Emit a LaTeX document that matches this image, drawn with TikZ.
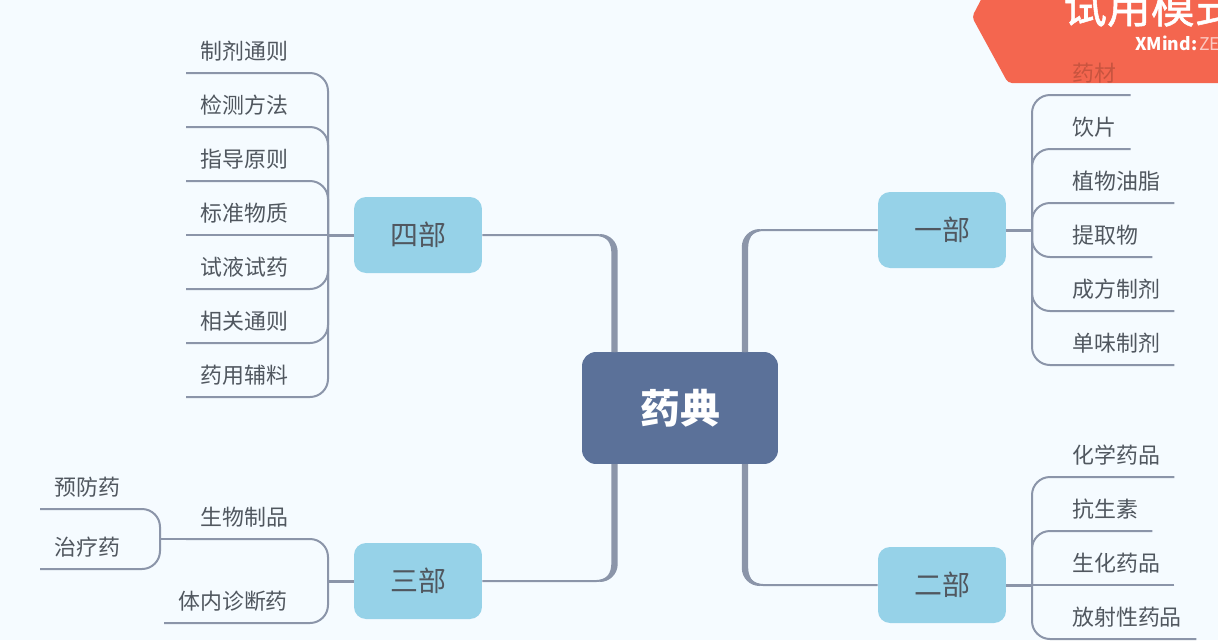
\documentclass[tikz,border=0pt]{standalone}
\usepackage{fontspec}
\setmainfont{Noto Sans CJK SC}
\newfontfamily\markfont[FakeBold=1.2]{Noto Sans CJK SC}
\usepackage{xcolor}
\usetikzlibrary{positioning,calc}

\definecolor{paper}{HTML}{F5FBFF}
\definecolor{limbcol}{HTML}{8B95A9}
\definecolor{inkcol}{HTML}{50575F}
\definecolor{partcol}{HTML}{96D2E8}
\definecolor{rootcol}{HTML}{5B7199}
\definecolor{markcol}{HTML}{F4664F}
\definecolor{undercol}{HTML}{C8543F}

\begin{document}
\begin{tikzpicture}[
          x=0.02cm, y=-0.02cm,
          root/.style={fill=rootcol, rounded corners=0.28cm, minimum width=3.92cm, minimum height=2.24cm, text=white, font=\fontsize{22.7}{24}\selectfont\bfseries},
          part/.style={fill=partcol, rounded corners=0.24cm, minimum width=2.56cm, minimum height=1.52cm, text=inkcol, font=\fontsize{15.9}{18}\selectfont},
          leaf/.style={inner xsep=0.28cm, inner ysep=0pt, minimum height=0.86cm, text=inkcol, font=\fontsize{12.47}{14}\selectfont},
          limb/.style={limbcol, line width=0.04cm, rounded corners=0.36cm},
          stem/.style={limbcol, line width=0.06cm},
          trunk/.style={fill=limbcol}
      ]
        \useasboundingbox (0,0) rectangle (1218,640);
        \fill[paper] (0,0) rectangle (1218,640);

        % main topics
        \node[root] (root) at (680,408) {药典};
        \node[part] (n1) at (942,230) {一部};
        \node[part] (n2) at (942,585) {二部};
        \node[part] (n3) at (418,581) {三部};
        \node[part] (n4) at (418,235) {四部};

        \coordinate (h1) at (745,352);
        \coordinate (h2) at (745,464);
        \coordinate (h3) at (614.5,464);
        \coordinate (h4) at (614.5,352);

        \coordinate (s1) at (1032,230);
        \coordinate (s2) at (1032,585);
        \coordinate (s3) at (328,581);
        \coordinate (s4) at (328,235);
        \coordinate (s5) at (160,539);

        % trunks, thin at the topic and thick at the root
        \draw[limb] (n1.west) -| (h1);
        \draw[limb] (n2.west) -| (h2);
        \draw[limb] (n3.east) -| (h3);
        \draw[limb] (n4.east) -| (h4);
        \fill[trunk] (h1) ++(-3.2,0) -- ++(0,-105) .. controls +(0,-10) and +(-10,0) .. ++(18,-18) -- ++(0,2) .. controls +(-7,0) and +(0,-8) .. ++(-11.6,16) -- ++(0,105) -- cycle;
        \fill[trunk] (h2) ++(-3.2,0) -- ++(0,104) .. controls +(0,10) and +(-10,0) .. ++(18,18) -- ++(0,-2) .. controls +(-7,0) and +(0,8) .. ++(-11.6,-16) -- ++(0,-104) -- cycle;
        \fill[trunk] (h3) ++(3.2,0) -- ++(0,100) .. controls +(0,10) and +(10,0) .. ++(-18,18) -- ++(0,-2) .. controls +(7,0) and +(0,8) .. ++(11.6,-16) -- ++(0,-100) -- cycle;
        \fill[trunk] (h4) ++(3.2,0) -- ++(0,-100) .. controls +(0,-10) and +(10,0) .. ++(-18,-18) -- ++(0,2) .. controls +(7,0) and +(0,-8) .. ++(11.6,16) -- ++(0,100) -- cycle;

        % watermark
        \begin{scope}
          \clip (0,0) rectangle (1218,640);
          \fill[markcol, rounded corners=0.08cm] (972,17) -- (984,-6) -- (1240,-6) -- (1240,83) -- (1008,83) -- cycle;
          \node[anchor=base west, inner sep=0pt, text=white, font=\fontsize{24.9}{26}\selectfont\markfont] (mark) at (1063,23) {试用模式};
          \node[anchor=base west, inner sep=0pt, text=white, font=\fontsize{10}{11}\selectfont] (zen) at (1135,50) {\textbf{XMind:}\hspace{0.04cm}\textcolor{white!65!markcol}{ZE}};
        \end{scope}

        % first part
        \node[leaf, anchor=south west, text=undercol] (a1) at (1058,95) {药材};
        \node[leaf, anchor=south west] (a2) at (1058,149) {饮片};
        \node[leaf, anchor=south west] (a3) at (1058,203) {植物油脂};
        \node[leaf, anchor=south west] (a4) at (1058,257) {提取物};
        \node[leaf, anchor=south west] (a5) at (1058,311) {成方制剂};
        \node[leaf, anchor=south west] (a6) at (1058,365) {单味制剂};
        \draw[stem] (n1.east) -- (s1);
        \draw[limb] (a1.south east) -| (s1);
        \draw[limb] (a2.south east) -| (s1);
        \draw[limb] (a3.south east) -| (s1);
        \draw[limb] (a4.south east) -| (s1);
        \draw[limb] (a5.south east) -| (s1);
        \draw[limb] (a6.south east) -| (s1);

        % second part
        \node[leaf, anchor=south west] (b1) at (1058,477) {化学药品};
        \node[leaf, anchor=south west] (b2) at (1058,531) {抗生素};
        \node[leaf, anchor=south west] (b3) at (1058,585) {生化药品};
        \node[leaf, anchor=south west] (b4) at (1058,639) {放射性药品};
        \draw[stem] (n2.east) -- (s2);
        \draw[limb] (b1.south east) -| (s2);
        \draw[limb] (b2.south east) -| (s2);
        \draw[limb] (b3.south east) -- (s2);
        \draw[limb] (b4.south east) -| (s2);

        % third part
        \node[leaf, anchor=south west] (c1) at (186,539) {生物制品};
        \node[leaf, anchor=south west] (c2) at (164,623) {体内诊断药};
        \node[leaf, anchor=south west] (c3) at (40,509) {预防药};
        \node[leaf, anchor=south west] (c4) at (40,569) {治疗药};
        \draw[stem] (n3.west) -- (s3);
        \draw[limb] (c1.south west) -| (s3);
        \draw[limb] (c2.south west) -| (s3);
        \draw[limb] (c1.south west) -- (s5);
        \draw[limb] (c3.south west) -| (s5);
        \draw[limb] (c4.south west) -| (s5);

        % fourth part
        \node[leaf, anchor=south west] (d1) at (186,73) {制剂通则};
        \node[leaf, anchor=south west] (d2) at (186,127) {检测方法};
        \node[leaf, anchor=south west] (d3) at (186,181) {指导原则};
        \node[leaf, anchor=south west] (d4) at (186,235) {标准物质};
        \node[leaf, anchor=south west] (d5) at (186,289) {试液试药};
        \node[leaf, anchor=south west] (d6) at (186,343) {相关通则};
        \node[leaf, anchor=south west] (d7) at (186,397) {药用辅料};
        \draw[stem] (n4.west) -- (s4);
        \draw[limb] (d1.south west) -| (s4);
        \draw[limb] (d2.south west) -| (s4);
        \draw[limb] (d3.south west) -| (s4);
        \draw[limb] (d4.south west) -- (s4);
        \draw[limb] (d5.south west) -| (s4);
        \draw[limb] (d6.south west) -| (s4);
        \draw[limb] (d7.south west) -| (s4);
      \end{tikzpicture}
\end{document}
